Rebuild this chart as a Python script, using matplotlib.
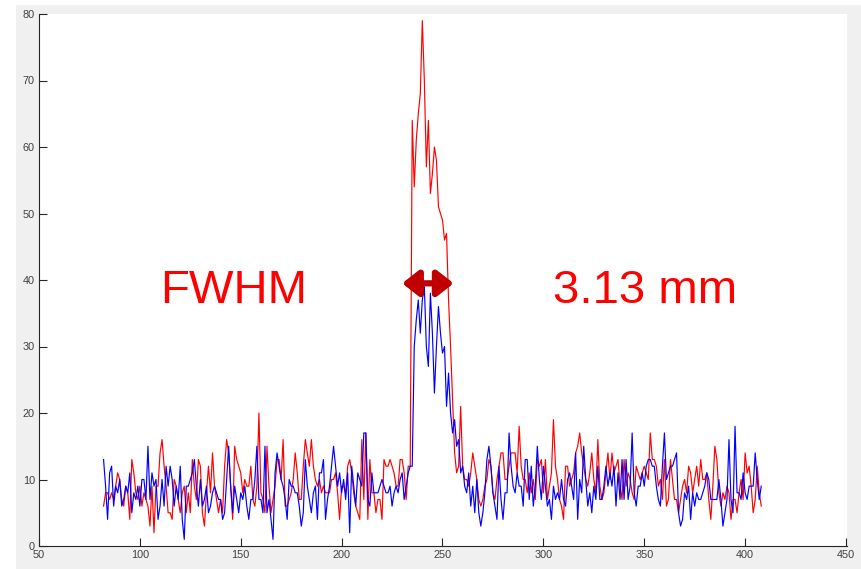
import numpy as np
import matplotlib
matplotlib.use("Agg")
import matplotlib.pyplot as plt
from matplotlib.patches import Rectangle
import matplotlib.patheffects as pe

x_start = 82

red_counts = [
    6, 8, 8, 7, 8, 7, 9, 11, 10, 7,
    6, 9, 8, 4, 13, 11, 8, 7, 9, 6,
    8, 7, 6, 3, 9, 2, 9, 9, 14, 16,
    12, 9, 5, 5, 4, 10, 9, 7, 5, 8,
    9, 5, 8, 5, 13, 9, 7, 13, 12, 5,
    3, 8, 12, 8, 14, 9, 7, 5, 7, 5,
    12, 16, 14, 9, 4, 15, 13, 12, 11, 8,
    10, 9, 9, 12, 7, 6, 9, 20, 8, 7,
    5, 15, 9, 5, 7, 9, 13, 13, 10, 16,
    6, 6, 7, 8, 10, 14, 11, 7, 7, 12,
    16, 14, 12, 16, 12, 10, 9, 10, 8, 9,
    8, 8, 8, 10, 10, 11, 8, 4, 9, 9,
    8, 12, 13, 11, 8, 6, 5, 4, 16, 7,
    17, 4, 13, 8, 8, 5, 7, 7, 4, 13,
    12, 12, 13, 12, 11, 9, 9, 13, 13, 11,
    7, 12, 12, 64, 54, 61, 65, 68, 79, 70,
    57, 64, 53, 56, 60, 58, 51, 50, 49, 46,
    47, 37, 30, 22, 14, 11, 12, 21, 12, 10,
    10, 9, 11, 14, 12, 10, 7, 6, 7, 9,
    10, 13, 12, 8, 7, 10, 12, 14, 14, 10,
    10, 12, 14, 14, 14, 11, 18, 12, 10, 10,
    8, 11, 8, 10, 7, 13, 12, 13, 8, 13,
    7, 9, 11, 19, 12, 10, 7, 6, 4, 12,
    12, 9, 10, 11, 14, 15, 17, 14, 12, 10,
    9, 11, 14, 10, 8, 16, 9, 7, 8, 11,
    14, 10, 14, 11, 12, 13, 9, 7, 13, 9,
    11, 10, 8, 7, 12, 11, 10, 11, 12, 11,
    10, 17, 13, 13, 12, 9, 10, 7, 13, 6,
    7, 13, 10, 7, 7, 5, 7, 9, 10, 8,
    12, 11, 8, 10, 12, 9, 13, 10, 10, 11,
    7, 4, 9, 15, 13, 8, 6, 8, 7, 9,
    8, 4, 7, 7, 5, 8, 10, 7, 14, 11,
    12, 9, 5, 7, 12, 8, 6,
]

blue_counts = [
    13, 9, 4, 11, 12, 6, 9, 8, 10, 6,
    7, 9, 8, 11, 5, 8, 7, 9, 6, 10,
    10, 7, 15, 7, 11, 9, 10, 4, 6, 10,
    6, 12, 9, 12, 10, 6, 9, 7, 12, 4,
    1, 9, 9, 10, 11, 13, 9, 6, 10, 6,
    7, 9, 5, 6, 8, 9, 8, 7, 7, 4,
    5, 10, 15, 9, 5, 9, 7, 5, 8, 7,
    9, 6, 4, 7, 7, 10, 15, 7, 7, 5,
    15, 5, 7, 4, 1, 11, 14, 12, 10, 9,
    7, 4, 10, 9, 9, 8, 8, 6, 3, 5,
    13, 9, 7, 5, 8, 9, 4, 11, 11, 13,
    4, 7, 9, 12, 15, 12, 9, 11, 8, 10,
    7, 11, 2, 12, 9, 6, 11, 10, 9, 17,
    17, 7, 6, 11, 8, 8, 8, 9, 10, 9,
    8, 8, 9, 6, 8, 9, 8, 10, 11, 7,
    9, 11, 12, 12, 30, 34, 37, 32, 37, 39,
    30, 27, 38, 32, 23, 30, 36, 32, 29, 30,
    21, 26, 20, 17, 19, 15, 16, 11, 12, 9,
    8, 11, 6, 9, 5, 10, 5, 3, 5, 8,
    13, 15, 12, 8, 6, 4, 12, 7, 4, 8,
    8, 17, 12, 9, 8, 11, 9, 9, 6, 13,
    13, 7, 12, 6, 9, 15, 10, 7, 12, 9,
    6, 7, 4, 9, 7, 8, 7, 10, 7, 6,
    10, 11, 9, 7, 14, 4, 10, 8, 15, 10,
    6, 8, 5, 9, 7, 12, 7, 7, 9, 12,
    9, 11, 9, 12, 6, 11, 7, 13, 7, 13,
    7, 9, 17, 8, 6, 9, 9, 11, 9, 12,
    13, 13, 12, 12, 9, 7, 6, 12, 17, 10,
    11, 12, 12, 13, 14, 5, 3, 4, 8, 7,
    9, 4, 8, 6, 8, 7, 7, 8, 9, 11,
    10, 7, 7, 7, 7, 10, 7, 3, 5, 7,
    16, 7, 5, 18, 8, 8, 7, 11, 8, 7,
    9, 9, 9, 14, 10, 7, 9,
]

x_ticks = [50, 100, 150, 200, 250, 300, 350, 400, 450]
y_ticks = [0, 10, 20, 30, 40, 50, 60, 70, 80]
label_left = "FWHM"
label_right = "3.13 mm"
fwhm_span = (230, 255.5)
fwhm_level = 39.5

W, H = 862, 569
fig = plt.figure(figsize=(W / 100, H / 100), dpi=100, facecolor="white")
bg = Rectangle((16 / W, 0), 1, 1 - 5 / H, transform=fig.transFigure,
               facecolor="#f0f0f0", edgecolor="none", zorder=-10)
fig.add_artist(bg)

ax = fig.add_axes([39 / W, 1 - 546 / H, (847 - 39) / W, (546 - 14) / H])
ax.set_zorder(5)
ax.set_facecolor("white")

xr = np.arange(x_start, x_start + len(red_counts))
xb = np.arange(x_start, x_start + len(blue_counts))
ax.plot(xr, red_counts, color="#ff0000", lw=0.85)
ax.plot(xb, blue_counts, color="#0000ff", lw=0.85)

ax.set_xlim(50, 450.5)
ax.set_ylim(0, 80)
ax.set_xticks(x_ticks)
ax.set_yticks(y_ticks)
for s in ["top", "right"]:
    ax.spines[s].set_visible(False)
for s in ["left", "bottom"]:
    ax.spines[s].set_color("#262626")
    ax.spines[s].set_linewidth(0.8)
ax.tick_params(direction="in", length=6, width=0.8, colors="#262626",
               labelsize=7.8, labelcolor="#404040", pad=3)
for lab in ax.get_xticklabels() + ax.get_yticklabels():
    lab.set_family("Liberation Sans")

ax.text(146.5, 38.4, label_left, color="#ff0000", fontsize=34, family="Liberation Sans",
        ha="center", va="center")
ax.text(350.5, 38.4, label_right, color="#ff0000", fontsize=34, family="Liberation Sans",
        ha="center", va="center")

ax.annotate("", xy=(fwhm_span[0], fwhm_level), xytext=(fwhm_span[1], fwhm_level),
            arrowprops=dict(arrowstyle="<|-|>,head_length=0.7,head_width=0.55",
                            color="#c00000", lw=4.5, mutation_scale=14,
                            shrinkA=0, shrinkB=0,
                            path_effects=[pe.SimplePatchShadow(offset=(1.5, -1.5), alpha=0.35),
                                          pe.Normal()]))

fig.savefig("out.png", dpi=100, facecolor=fig.get_facecolor())
